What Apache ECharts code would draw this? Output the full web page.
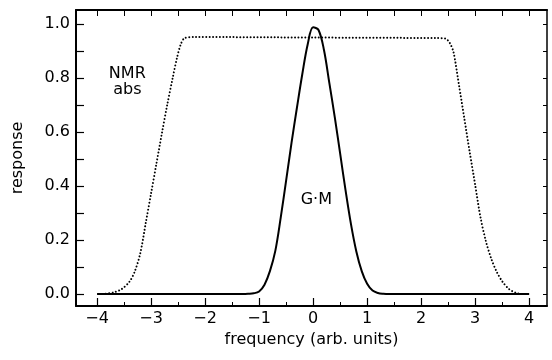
<!DOCTYPE html>
<html>
<head>
<meta charset="utf-8">
<script src="https://cdn.jsdelivr.net/npm/echarts@6/dist/echarts.min.js"></script>
<style>
html,body{margin:0;padding:0;background:#fff;}
#c{width:552px;height:360px;}
</style>
</head>
<body>
<div id="c"></div>
<script>
// ---- data ----
const xTickLabels = [-4, -3, -2, -1, 0, 1, 2, 3, 4];
const xMinorTicks = [-4, -3.5, -3, -2.5, -2, -1.5, -1, -0.5, 0, 0.5, 1, 1.5, 2, 2.5, 3, 3.5, 4];
const yTickLabels = [0, 0.2, 0.4, 0.6, 0.8, 1.0];
const yMinorTicks = [0, 0.1, 0.2, 0.3, 0.4, 0.5, 0.6, 0.7, 0.8, 0.9, 1.0];

const gmX = [-4, -1.4, -1.3, -1.2, -1.1, -1.0, -0.9, -0.8, -0.7, -0.6, -0.5, -0.4, -0.3, -0.2, -0.1, 0.0, 0.1, 0.2, 0.3, 0.4, 0.5, 0.6, 0.7, 0.8, 0.9, 1.0, 1.1, 1.2, 1.3, 1.4, 1.5, 4];
const gmY = [0, 0, 0, 0.001, 0.003, 0.010, 0.035, 0.085, 0.160, 0.283, 0.420, 0.560, 0.690, 0.815, 0.925, 0.988, 0.978, 0.905, 0.782, 0.656, 0.521, 0.385, 0.260, 0.158, 0.085, 0.038, 0.013, 0.004, 0.001, 0, 0, 0];

const nmrX = [-3.9, -3.7, -3.55, -3.4, -3.3, -3.2, -3.1, -3.0, -2.9, -2.8, -2.7, -2.6, -2.52, -2.45, -2.38, -2.2, 0, 2.3, 2.45, 2.53, 2.60, 2.70, 2.80, 2.90, 3.00, 3.10, 3.20, 3.30, 3.40, 3.50, 3.62, 3.75, 3.9];
const nmrY = [0, 0.006, 0.018, 0.046, 0.085, 0.151, 0.262, 0.373, 0.484, 0.595, 0.702, 0.800, 0.875, 0.925, 0.948, 0.952, 0.950, 0.948, 0.946, 0.930, 0.895, 0.775, 0.650, 0.525, 0.405, 0.283, 0.195, 0.130, 0.082, 0.048, 0.020, 0.005, 0];

const annotations = [
  {text: 'NMR', x: -3.44, y: 0.815},
  {text: 'abs', x: -3.44, y: 0.755},
  {text: 'G\u00b7M', x: 0.06, y: 0.35}
];

const FONT = 'DejaVu Sans';
const X_MIN = -4.39, X_MAX = 4.33, Y_MIN = -0.044, Y_MAX = 1.052;

const chart = echarts.init(document.getElementById('c'), null, {renderer: 'canvas'});
const zip = (a, b) => a.map((v, i) => [v, b[i]]);

const baseX = {type: 'value', min: X_MIN, max: X_MAX, splitLine: {show: false}};
const baseY = {type: 'value', min: Y_MIN, max: Y_MAX, splitLine: {show: false}};

chart.setOption({
  animation: false,
  backgroundColor: '#fff',
  grid: {left: 76, right: 5, top: 10, bottom: 54},
  xAxis: [
    Object.assign({}, baseX, {
      position: 'bottom',
      axisLine: {show: true, onZero: false, lineStyle: {color: '#000', width: 2}},
      axisTick: {show: true, inside: true, length: 8, customValues: xTickLabels, lineStyle: {color: '#000', width: 1.2}},
      axisLabel: {show: true, customValues: xTickLabels, margin: 5, color: '#000', fontFamily: FONT, fontSize: 16,
        formatter: v => (v < 0 ? '\u2212' + Math.abs(v) : String(v))},
      name: 'frequency (arb. units)', nameLocation: 'middle', nameGap: 25,
      nameTextStyle: {color: '#000', fontFamily: FONT, fontSize: 16}
    }),
    Object.assign({}, baseX, {
      position: 'bottom',
      axisLine: {show: false, onZero: false},
      axisTick: {show: true, inside: true, length: 4, customValues: xMinorTicks, lineStyle: {color: '#000', width: 1}},
      axisLabel: {show: false}
    }),
    Object.assign({}, baseX, {
      position: 'top',
      axisLine: {show: true, onZero: false, lineStyle: {color: '#000', width: 2}},
      axisTick: {show: true, inside: true, length: 6, customValues: xMinorTicks, lineStyle: {color: '#000', width: 1}},
      axisLabel: {show: false}
    })
  ],
  yAxis: [
    Object.assign({}, baseY, {
      position: 'left',
      axisLine: {show: true, onZero: false, lineStyle: {color: '#000', width: 2}},
      axisTick: {show: true, inside: true, length: 8, customValues: yMinorTicks, lineStyle: {color: '#000', width: 1.2}},
      axisLabel: {show: true, customValues: yTickLabels, margin: 6, color: '#000', fontFamily: FONT, fontSize: 16,
        formatter: v => v.toFixed(1)},
      name: 'response', nameLocation: 'middle', nameGap: 50, nameRotate: 90,
      nameTextStyle: {color: '#000', fontFamily: FONT, fontSize: 16}
    }),
    Object.assign({}, baseY, {
      position: 'right',
      axisLine: {show: true, onZero: false, lineStyle: {color: '#000', width: 1.5}},
      axisTick: {show: true, inside: true, length: 4, customValues: yMinorTicks, lineStyle: {color: '#000', width: 1}},
      axisLabel: {show: false}
    })
  ],
  series: [
    {
      type: 'line', name: 'G·M', xAxisIndex: 0, yAxisIndex: 0,
      data: zip(gmX, gmY), smooth: 0.35, showSymbol: false, symbol: 'none',
      lineStyle: {color: '#000', width: 2}
    },
    {
      type: 'line', name: 'NMR abs', xAxisIndex: 0, yAxisIndex: 0,
      data: zip(nmrX, nmrY), smooth: 0.3, showSymbol: false, symbol: 'none',
      lineStyle: {color: '#000', width: 2, type: [0.01, 3.4], cap: 'round'}
    },
    {
      type: 'scatter', xAxisIndex: 0, yAxisIndex: 0, symbolSize: 0, silent: true,
      itemStyle: {color: '#000', opacity: 1},
      data: annotations.map(a => ({value: [a.x, a.y], label: {show: true, position: [0, 0], align: 'center', verticalAlign: 'middle',
        formatter: a.text, color: '#000', opacity: 1, fontFamily: FONT, fontSize: 16}}))
    }
  ]
});
</script>
</body>
</html>
